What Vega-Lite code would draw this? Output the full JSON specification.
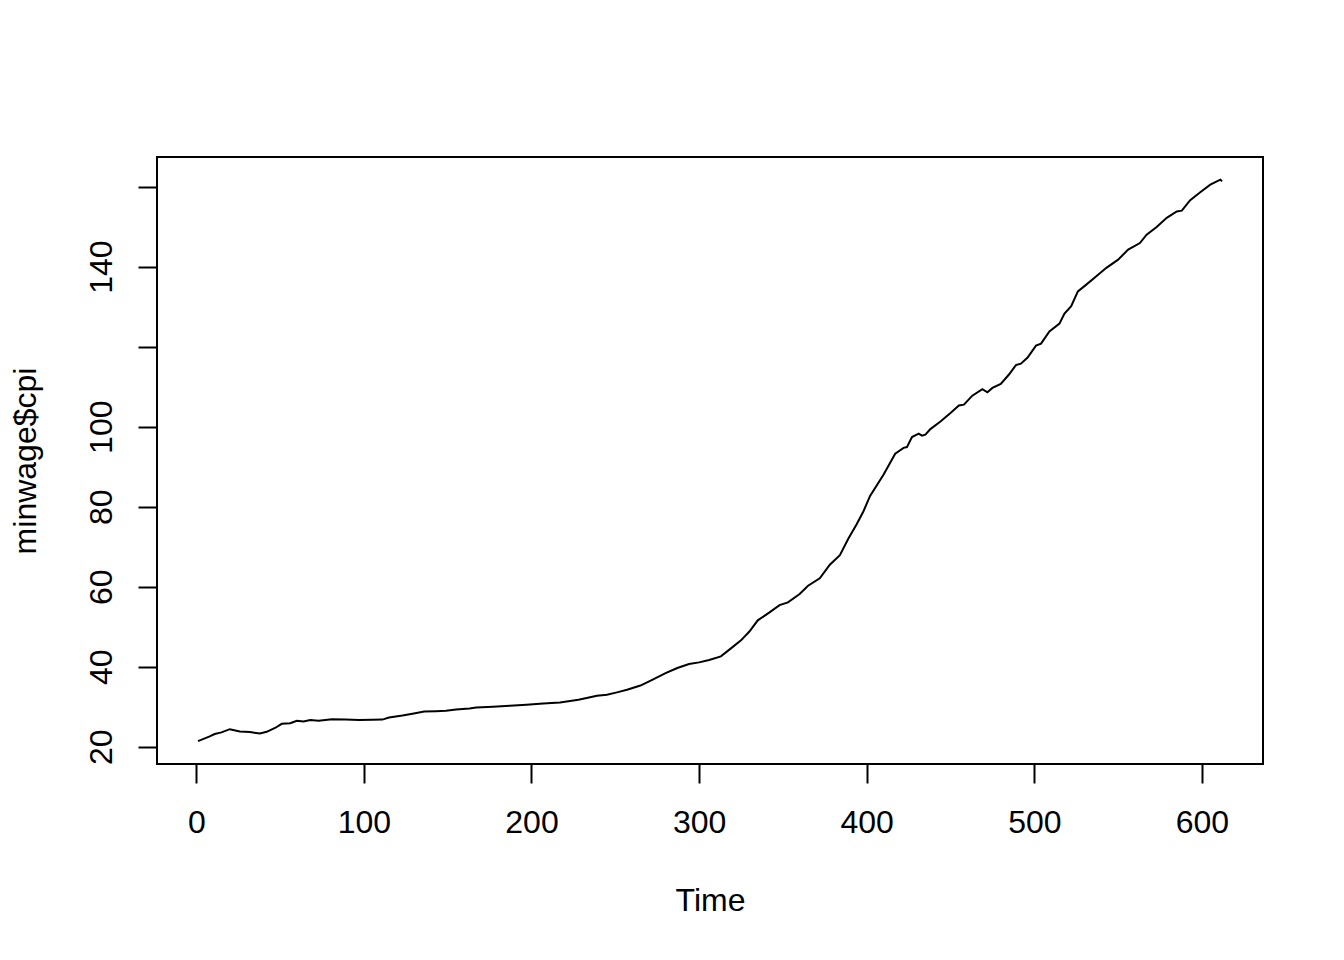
{
  "$schema": "https://vega.github.io/schema/vega-lite/v6.json",
  "width": 1106,
  "height": 607,
  "autosize": {"type": "none"},
  "padding": {"left": 157, "top": 157, "right": 81, "bottom": 196},
  "background": "white",
  "config": {
    "view": {"stroke": "black", "strokeWidth": 2, "fill": "white"},
    "axis": {
      "domain": false,
      "grid": false,
      "ticks": true,
      "tickColor": "black",
      "tickWidth": 2,
      "tickSize": 19,
      "labelFont": "Liberation Sans",
      "labelFontSize": 32,
      "labelColor": "black",
      "titleFont": "Liberation Sans",
      "titleFontSize": 32,
      "titleFontWeight": "normal",
      "titleColor": "black",
      "labelOverlap": false,
      "labelFlush": false
    }
  },
  "data": {
    "values": [
      {"t": 1, "v": 21.4}, {"t": 4, "v": 21.9}, {"t": 8, "v": 22.6}, {"t": 11, "v": 23.2},
      {"t": 15, "v": 23.6}, {"t": 20, "v": 24.4}, {"t": 26, "v": 23.8}, {"t": 32, "v": 23.7},
      {"t": 38, "v": 23.3}, {"t": 42, "v": 23.75}, {"t": 47, "v": 24.7}, {"t": 51, "v": 25.75},
      {"t": 56, "v": 25.9}, {"t": 60, "v": 26.5}, {"t": 64, "v": 26.3}, {"t": 68, "v": 26.7},
      {"t": 73, "v": 26.5}, {"t": 81, "v": 26.9}, {"t": 89, "v": 26.8}, {"t": 97, "v": 26.7},
      {"t": 105, "v": 26.75}, {"t": 111, "v": 26.8}, {"t": 115, "v": 27.3}, {"t": 123, "v": 27.8},
      {"t": 129, "v": 28.25}, {"t": 136, "v": 28.8}, {"t": 143, "v": 28.9}, {"t": 149, "v": 29.0},
      {"t": 155, "v": 29.3}, {"t": 163, "v": 29.6}, {"t": 167, "v": 29.8}, {"t": 177, "v": 30.0},
      {"t": 187, "v": 30.25}, {"t": 197, "v": 30.5}, {"t": 207, "v": 30.8}, {"t": 217, "v": 31.1},
      {"t": 228, "v": 31.75}, {"t": 235, "v": 32.4}, {"t": 239, "v": 32.75}, {"t": 245, "v": 33.0},
      {"t": 251, "v": 33.6}, {"t": 257, "v": 34.25}, {"t": 265, "v": 35.3}, {"t": 272, "v": 36.75},
      {"t": 280, "v": 38.4}, {"t": 287, "v": 39.7}, {"t": 294, "v": 40.7}, {"t": 300, "v": 41.1},
      {"t": 306, "v": 41.7}, {"t": 313, "v": 42.6}, {"t": 319, "v": 44.6}, {"t": 325, "v": 46.6},
      {"t": 330, "v": 48.8}, {"t": 335, "v": 51.6}, {"t": 342, "v": 53.6}, {"t": 348, "v": 55.4},
      {"t": 353, "v": 56.1}, {"t": 360, "v": 58.2}, {"t": 365, "v": 60.25}, {"t": 372, "v": 62.1},
      {"t": 378, "v": 65.5}, {"t": 384, "v": 67.9}, {"t": 389, "v": 72.0}, {"t": 394, "v": 75.6},
      {"t": 398, "v": 78.8}, {"t": 402, "v": 82.7}, {"t": 410, "v": 88.0}, {"t": 417, "v": 93.25},
      {"t": 422, "v": 94.7}, {"t": 424, "v": 94.9}, {"t": 427, "v": 97.4}, {"t": 431, "v": 98.25},
      {"t": 433, "v": 97.75}, {"t": 435, "v": 98.0}, {"t": 438, "v": 99.4}, {"t": 444, "v": 101.3},
      {"t": 450, "v": 103.4}, {"t": 455, "v": 105.3}, {"t": 458, "v": 105.5}, {"t": 463, "v": 107.75},
      {"t": 469, "v": 109.4}, {"t": 472, "v": 108.6}, {"t": 475, "v": 109.7}, {"t": 480, "v": 110.7},
      {"t": 485, "v": 113.1}, {"t": 489, "v": 115.4}, {"t": 492, "v": 115.75}, {"t": 496, "v": 117.3},
      {"t": 501, "v": 120.25}, {"t": 504, "v": 120.75}, {"t": 509, "v": 123.8}, {"t": 515, "v": 125.75},
      {"t": 518, "v": 128.25}, {"t": 522, "v": 130.1}, {"t": 526, "v": 133.8}, {"t": 531, "v": 135.5},
      {"t": 537, "v": 137.6}, {"t": 543, "v": 139.7}, {"t": 550, "v": 141.75}, {"t": 556, "v": 144.25},
      {"t": 563, "v": 145.9}, {"t": 567, "v": 148.0}, {"t": 573, "v": 149.9}, {"t": 579, "v": 152.2},
      {"t": 585, "v": 153.8}, {"t": 588, "v": 154.0}, {"t": 593, "v": 156.6}, {"t": 599, "v": 158.6},
      {"t": 605, "v": 160.5}, {"t": 611, "v": 161.75}, {"t": 612, "v": 161.3}
    ]
  },
  "mark": {"type": "line", "color": "black", "strokeWidth": 2, "clip": true},
  "encoding": {
    "x": {
      "field": "t",
      "type": "quantitative",
      "scale": {"domain": [-23.44, 636.44], "nice": false, "zero": false},
      "axis": {
        "title": "Time",
        "values": [0, 100, 200, 300, 400, 500, 600],
        "labelBaseline": "middle",
        "labelPadding": 39,
        "titleBaseline": "middle",
        "titleX": 553,
        "titleY": 136
      }
    },
    "y": {
      "field": "v",
      "type": "quantitative",
      "scale": {"domain": [15.7, 167.4], "nice": false, "zero": false},
      "axis": {
        "title": "minwage$cpi",
        "values": [20, 40, 60, 80, 100, 120, 140, 160],
        "labelExpr": "datum.value == 120 || datum.value == 160 ? '' : datum.label",
        "labelAngle": -90,
        "labelAlign": "center",
        "labelBaseline": "middle",
        "labelPadding": 37,
        "titleAngle": -90,
        "titleBaseline": "middle",
        "titleX": -132,
        "titleY": 303.5
      }
    }
  }
}
